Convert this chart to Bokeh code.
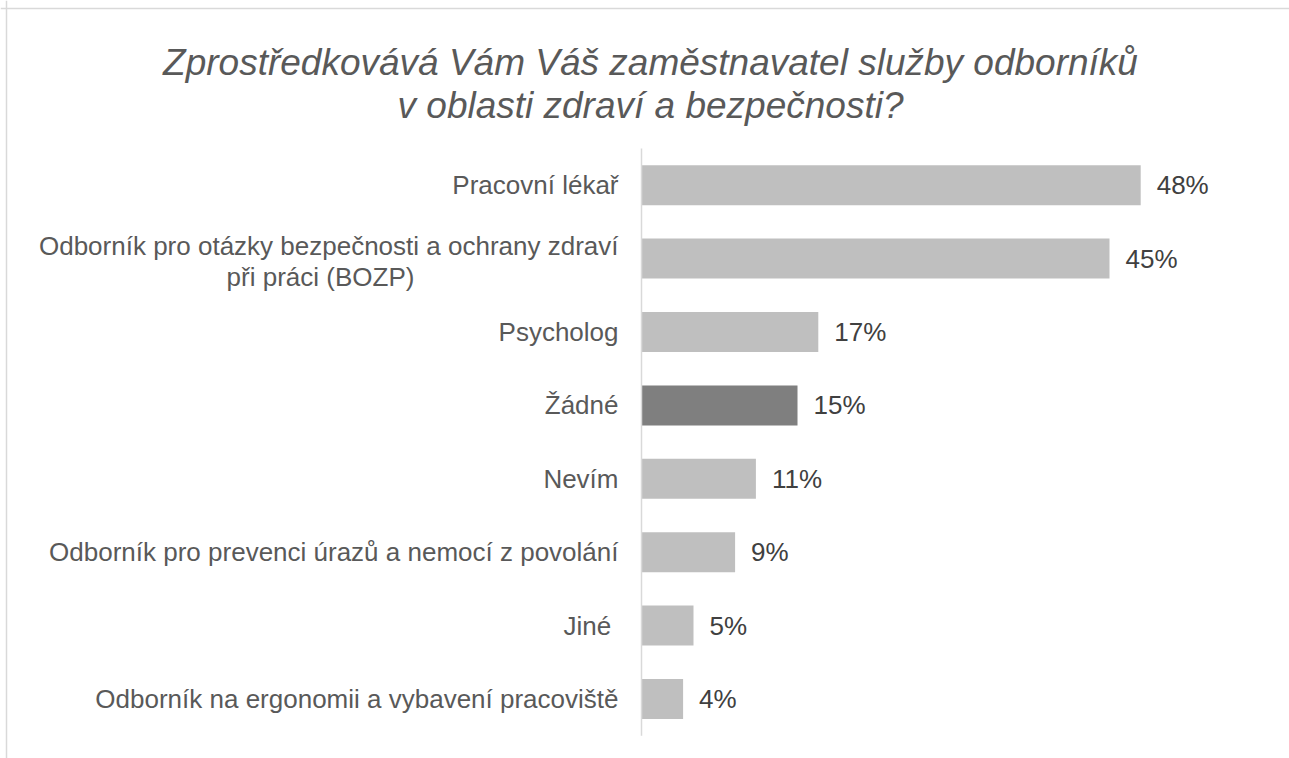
from bokeh.plotting import figure
from bokeh.models import ColumnDataSource, Range1d, Span
from bokeh.core.properties import value
from bokeh.embed import file_html
from bokeh.resources import INLINE

# ---------------- data ----------------
title_lines = ["Zprostředkovává Vám Váš zaměstnavatel služby odborníků",
               "v oblasti zdraví a bezpečnosti?"]
categories = [
    "Pracovní lékař",
    "Odborník pro otázky bezpečnosti a ochrany zdraví\npři práci (BOZP)",
    "Psycholog",
    "Žádné",
    "Nevím",
    "Odborník pro prevenci úrazů a nemocí z povolání",
    "Jiné ",
    "Odborník na ergonomii a vybavení pracoviště",
]
values = [48, 45, 17, 15, 11, 9, 5, 4]
highlight = "Žádné"

# ---------------- styling / layout constants ----------------
W, H = 1289, 758
AXIS_PX = 641          # canvas x of the value axis (0 %)
PX_PER_PCT = 10.4
BAND_PX = 73.4
FIRST_CENTER_PX = 184.7
FONT = "Liberation Sans"
BAR = "#BFBFBF"
BAR_HI = "#7F7F7F"
LABEL_C = "#595959"
VALUE_C = "#404040"
LINE_C = "#D9D9D9"

x_range = Range1d(-AXIS_PX / PX_PER_PCT, (W - AXIS_PX) / PX_PER_PCT)
y_range = Range1d((H - FIRST_CENTER_PX) / BAND_PX, -FIRST_CENTER_PX / BAND_PX)

p = figure(width=W, height=H, x_range=x_range, y_range=y_range,
           output_backend="svg", toolbar_location=None, min_border=0)
p.axis.visible = False
p.grid.visible = False
p.outline_line_color = None
p.background_fill_color = "white"
p.border_fill_color = "white"

idx = list(range(len(categories)))
colors = [BAR_HI if c == highlight else BAR for c in categories]
src = ColumnDataSource(dict(
    y=idx, v=values, color=colors,
    vlabel=[f"{v}%" for v in values],
))

# bars
p.hbar(y="y", left=0, right="v", height=40 / BAND_PX, fill_color="color",
       line_color=None, source=src)

# axis line
p.segment(x0=[0], y0=[-0.5], x1=[0], y1=[len(categories) - 0.5],
          line_color=LINE_C, line_width=1.5)

# value labels
p.text(x="v", y="y", text="vlabel", source=src, x_offset=16,
       text_align="left", text_baseline="middle",
       text_font=value(FONT), text_font_size="26px", text_color=VALUE_C)

# category labels
single_y, single_t = [], []
multi_y1, multi_t1, multi_y2, multi_t2 = [], [], [], []
for i, c in enumerate(categories):
    if "\n" in c:
        a, b = c.split("\n", 1)
        multi_y1.append(i); multi_t1.append(a)
        multi_y2.append(i); multi_t2.append(b)
    else:
        single_y.append(i); single_t.append(c)

p.text(x=[0] * len(single_y), y=single_y, text=single_t, x_offset=-23,
       text_align="right", text_baseline="middle",
       text_font=value(FONT), text_font_size="26px", text_color=LABEL_C)
p.text(x=[0] * len(multi_y1), y=multi_y1, text=multi_t1, x_offset=-23, y_offset=-13,
       text_align="right", text_baseline="middle",
       text_font=value(FONT), text_font_size="26px", text_color=LABEL_C)
p.text(x=[0] * len(multi_y2), y=multi_y2, text=multi_t2, x_offset=-321, y_offset=18,
       text_align="center", text_baseline="middle",
       text_font=value(FONT), text_font_size="26px", text_color=LABEL_C)

# title
p.text(x=[0, 0], y=[0, 0], text=title_lines, x_offset=9, y_offset=[-122.7, -79.7],
       text_align="center", text_baseline="alphabetic",
       text_font=value(FONT), text_font_size="37px", text_font_style="italic",
       text_color=LABEL_C)

# chart border (top / left)
p.add_layout(Span(location=8, location_units="canvas", dimension="width",
                  line_color=LINE_C, line_width=1.5))
p.add_layout(Span(location=6, location_units="canvas", dimension="height",
                  line_color=LINE_C, line_width=1.5))

open("out.html", "w").write(file_html(p, INLINE))
